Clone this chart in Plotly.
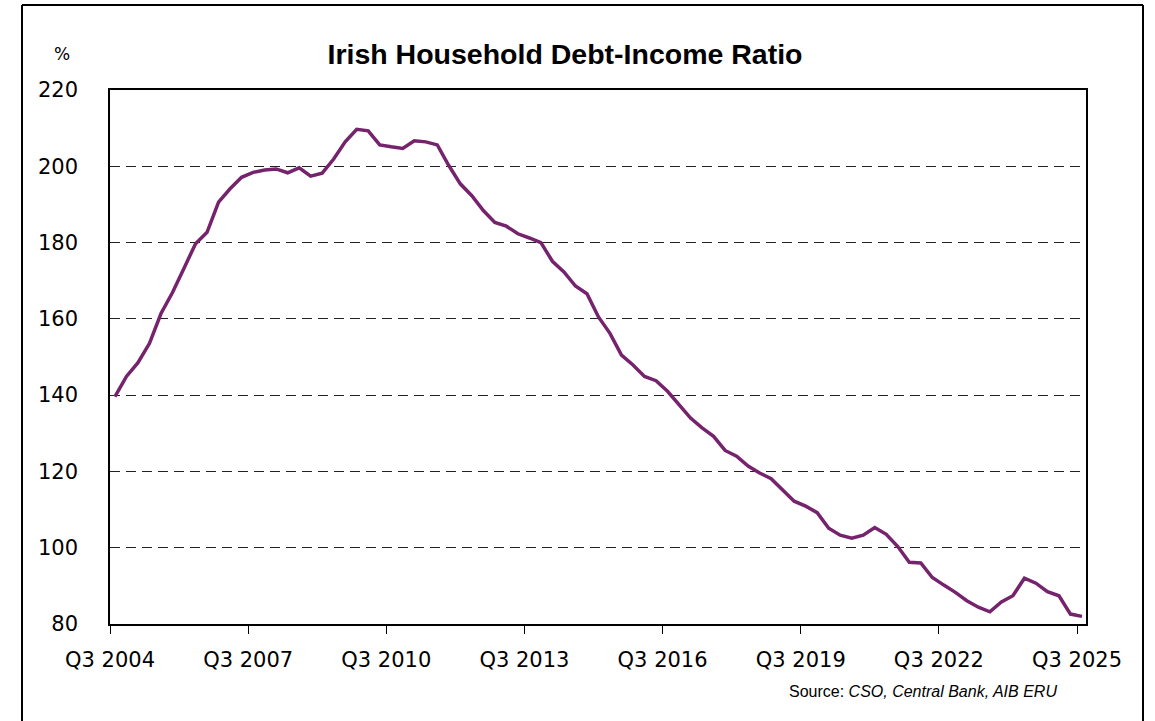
import plotly.graph_objects as go

# Quarterly data Q3 2004 .. Q3 2025
quarters = []
for y in range(2004, 2026):
    for q in range(1, 5):
        if (y == 2004 and q < 3) or (y == 2025 and q > 3):
            continue
        quarters.append(f"Q{q} {y}")

ratio = [
    139.6, 144.9, 148.5, 153.6, 161.4, 166.9, 173.3, 179.7, 182.7, 190.6,
    194.1, 197.1, 198.4, 199.0, 199.3, 198.3, 199.6, 197.4, 198.2, 201.9,
    206.4, 209.7, 209.3, 205.6, 205.1, 204.7, 206.7, 206.4, 205.6, 200.2,
    195.4, 192.3, 188.4, 185.3, 184.3, 182.3, 181.2, 180.0, 175.1, 172.3,
    168.6, 166.6, 160.5, 156.2, 150.5, 147.9, 144.9, 143.8, 141.0, 137.5,
    134.0, 131.4, 129.2, 125.5, 124.0, 121.4, 119.6, 118.1, 115.3, 112.2,
    110.9, 109.2, 105.1, 103.3, 102.5, 103.3, 105.3, 103.5, 100.3, 96.2,
    96.0, 92.2, 90.2, 88.3, 86.1, 84.4, 83.2, 85.8, 87.4, 92.0,
    90.7, 88.5, 87.4, 82.6, 82.0,
]

tick_labels = ["Q3 2004", "Q3 2007", "Q3 2010", "Q3 2013", "Q3 2016",
               "Q3 2019", "Q3 2022", "Q3 2025"]
y_ticks = [80, 100, 120, 140, 160, 180, 200, 220]

idx = list(range(len(ratio)))
# category-axis ticks sit slightly before each labelled quarter
tick_pos = [quarters.index(t) - 0.43 for t in tick_labels]

FONT = "Liberation Sans, Arial, sans-serif"
TICKFONT = "DejaVu Sans, sans-serif"

fig = go.Figure()
fig.add_trace(go.Scatter(
    x=idx, y=ratio, mode="lines",
    line=dict(color="#76236D", width=3.5),
    hovertext=quarters, showlegend=False,
))

W, H = 1155, 721
L, R, T, B = 110, 69, 90, 97
pw, ph = W - L - R, H - T - B


def px(xp):
    return (xp - L) / pw


def py(yp):
    return (H - B - yp) / ph


fig.update_layout(
    width=W, height=H,
    margin=dict(l=L, r=R, t=T, b=B, pad=0),
    paper_bgcolor="white", plot_bgcolor="white",
    font=dict(family=FONT, color="black"),
    title=dict(text="<b>Irish Household Debt-Income Ratio</b>",
               x=px(565), xref="paper", xanchor="center",
               y=1 - 54 / H, yanchor="middle",
               font=dict(size=28.5, family=FONT, color="black")),
    xaxis=dict(
        range=[-0.43, 84.35],
        tickmode="array", tickvals=tick_pos, ticktext=tick_labels,
        ticks="outside", ticklen=8, tickcolor="black", tickwidth=1.3,
        ticklabelstandoff=8,
        showline=True, linecolor="black", linewidth=1.6, mirror=True,
        showgrid=False, zeroline=False,
        tickfont=dict(size=21, family=TICKFONT, color="black"),
    ),
    yaxis=dict(
        range=[80, 220], tickmode="array", tickvals=y_ticks,
        showline=True, linecolor="black", linewidth=1.6, mirror=True,
        showgrid=True, gridcolor="#222222", gridwidth=1.2, griddash="10px,6px",
        zeroline=False, ticks="", ticklabelstandoff=26,
        tickfont=dict(size=21, family=TICKFONT, color="black"),
    ),
)

# Outer frame (open at the bottom, runs off the image)
frame = dict(color="black", width=2)
for (xa, ya, xb, yb) in [(22, 5, 1143, 5), (22, 5, 22, 730), (1143, 5, 1143, 730)]:
    fig.add_shape(type="line", xref="paper", yref="paper",
                  x0=px(xa), y0=py(ya), x1=px(xb), y1=py(yb),
                  line=frame, layer="above")

fig.add_annotation(text="%", xref="paper", yref="paper",
                   x=px(62), y=py(54),
                   showarrow=False, xanchor="center", yanchor="middle",
                   font=dict(size=17, family=TICKFONT, color="black"))

fig.add_annotation(text="Source: <i>CSO, Central Bank, AIB ERU</i>",
                   xref="paper", yref="paper",
                   x=px(923), y=py(691),
                   showarrow=False, xanchor="center", yanchor="middle",
                   font=dict(size=16, family=FONT, color="black"))

fig.write_html("out.html",
               config={"displayModeBar": False},
               post_script="document.body.style.margin='0';")
